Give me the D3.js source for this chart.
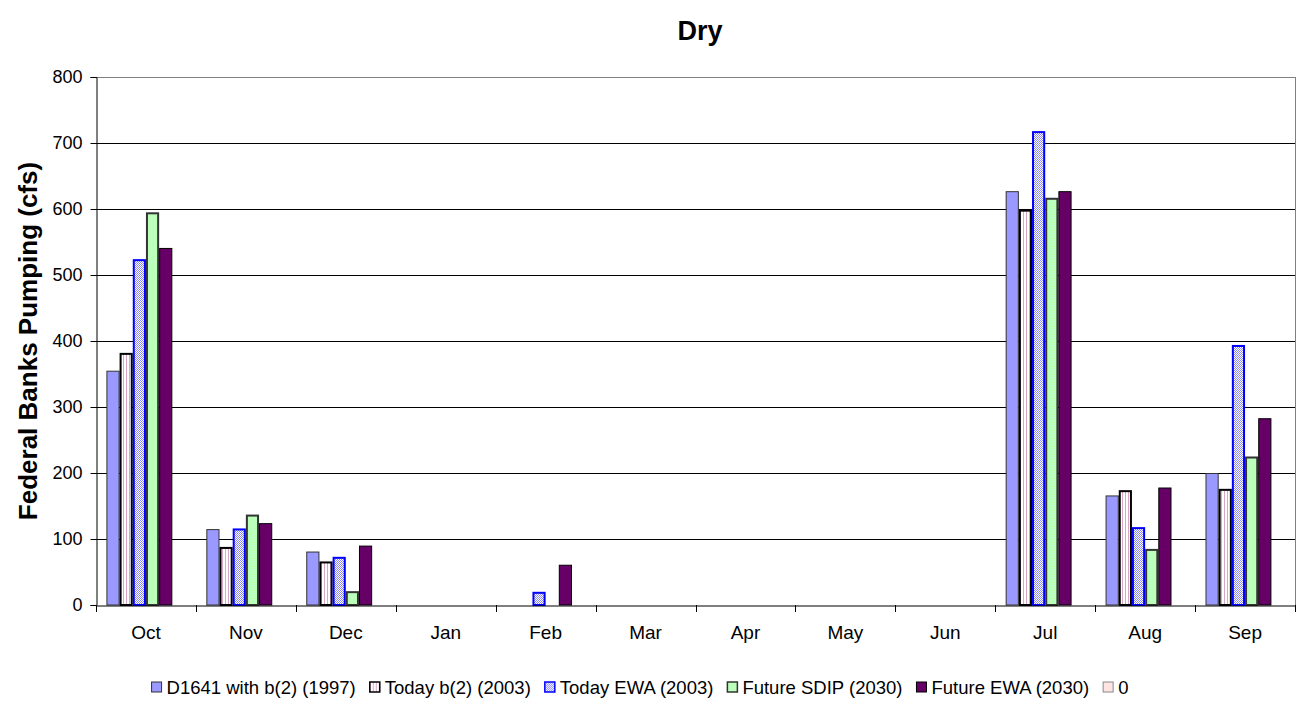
<!DOCTYPE html>
<html>
<head>
<meta charset="utf-8">
<script src="https://cdn.jsdelivr.net/npm/d3@7"></script>
<style>
  body { margin: 0; background: #fff; }
  text { font-family: Arial, "Liberation Sans", sans-serif; }
</style>
</head>
<body>
<svg id="chart" width="1302" height="707"></svg>
<script>
const months = ["Oct", "Nov", "Dec", "Jan", "Feb", "Mar", "Apr", "May", "Jun", "Jul", "Aug", "Sep"]
const seriesNames = ["D1641 with b(2) (1997)", "Today b(2) (2003)", "Today EWA (2003)",
    "Future SDIP (2030)", "Future EWA (2030)", "0"]
const d1641 = [355, 115, 81, 0, 0, 0, 0, 0, 0, 627, 166, 200]
const todayB2 = [382, 88, 66, 0, 0, 0, 0, 0, 0, 599, 174, 176]
const todayEwa = [524, 116, 73, 0, 20, 0, 0, 0, 0, 718, 118, 394]
const futureSdip = [595, 137, 21, 0, 0, 0, 0, 0, 0, 617, 85, 225]
const futureEwa = [541, 124, 90, 0, 61, 0, 0, 0, 0, 627, 178, 283]
const zeroSeries = [0, 0, 0, 0, 0, 0, 0, 0, 0, 0, 0, 0]
const yTicks = [0, 100, 200, 300, 400, 500, 600, 700, 800]

const allSeries = [d1641, todayB2, todayEwa, futureSdip, futureEwa, zeroSeries]

const styles = [
    {fill: "#9999FF", stroke: "#333", sw: 1},
    {fill: "url(#stripes)", stroke: "#000", sw: 2},
    {fill: "url(#checker)", stroke: "#0000FF", sw: 2},
    {fill: "#BBFFBB", stroke: "#333", sw: 2},
    {fill: "#660066", stroke: "#000", sw: 1},
    {fill: "#FFE4E4", stroke: "#888", sw: 1}
]

const margin = {top: 77, left: 96, right: 7, bottom: 102}
const W = 1302, H = 707
const svg = d3.select("#chart")

// patterns
const defs = svg.append("defs")
const stripes = defs.append("pattern").attr("id", "stripes")
    .attr("patternUnits", "userSpaceOnUse").attr("width", 3).attr("height", 3)
stripes.append("rect").attr("width", 3).attr("height", 3).attr("fill", "#fff")
stripes.append("rect").attr("width", 1).attr("height", 3).attr("fill", "#D9A6C6")
const checker = defs.append("pattern").attr("id", "checker")
    .attr("patternUnits", "userSpaceOnUse").attr("width", 2).attr("height", 2)
checker.append("rect").attr("width", 2).attr("height", 2).attr("fill", "#fff")
checker.append("rect").attr("width", 1).attr("height", 1).attr("fill", "#8888EE")
checker.append("rect").attr("x", 1).attr("y", 1).attr("width", 1).attr("height", 1).attr("fill", "#8888EE")

const x = d3.scaleBand().domain(months).range([margin.left, W - margin.right]).padding(0)
const xInner = d3.scaleBand().domain(d3.range(seriesNames.length))
    .range([0, x.bandwidth()]).paddingInner(0).paddingOuter(0.79)
const y = d3.scaleLinear().domain([0, 800]).range([H - margin.bottom, margin.top])

// gridlines
svg.append("g").selectAll("line").data(yTicks.slice(1)).join("line")
    .attr("x1", margin.left).attr("x2", W - margin.right)
    .attr("y1", d => Math.round(y(d)) + 0.5).attr("y2", d => Math.round(y(d)) + 0.5)
    .attr("stroke", d => d === 800 ? "#808080" : "#000").attr("stroke-width", 1)
// right border of plot area
svg.append("line")
    .attr("x1", W - margin.right + 0.5).attr("x2", W - margin.right + 0.5)
    .attr("y1", y(800)).attr("y2", y(0))
    .attr("stroke", "#808080")

// bars
allSeries.forEach((vals, si) => {
    const st = styles[si]
    svg.append("g").selectAll("rect")
        .data(vals.map((v, i) => ({month: months[i], value: v})).filter(d => d.value > 0))
        .join("rect")
        .attr("x", d => x(d.month) + xInner(si) + st.sw / 2)
        .attr("y", d => y(d.value) + st.sw / 2)
        .attr("width", xInner.bandwidth() - st.sw)
        .attr("height", d => y(0) - y(d.value) - st.sw / 2)
        .attr("fill", st.fill)
        .attr("stroke", st.stroke)
        .attr("stroke-width", st.sw)
})

// y axis
const yAxis = svg.append("g")
    .attr("transform", `translate(${margin.left + 0.5},0)`)
    .call(d3.axisLeft(y).tickValues(yTicks).tickSize(6).tickPadding(8))
yAxis.select(".domain").attr("stroke", "#000")
yAxis.selectAll(".tick line").attr("stroke", "#000")
yAxis.selectAll("text").attr("font-size", 18).attr("fill", "#000")
    .style("font-family", "Arial, 'Liberation Sans', sans-serif")

// x axis
const xAxis = svg.append("g")
    .attr("transform", `translate(0,${y(0) + 0.5})`)
    .call(d3.axisBottom(x).tickSize(0).tickPadding(20))
xAxis.select(".domain").attr("stroke", "#000")
xAxis.selectAll("text").attr("font-size", 19).attr("fill", "#000")
    .style("font-family", "Arial, 'Liberation Sans', sans-serif")
// tick marks at category boundaries
svg.append("g").selectAll("line").data(months.concat(["end"])).join("line")
    .attr("x1", (d, i) => Math.round(margin.left + i * x.step()) + 0.5)
    .attr("x2", (d, i) => Math.round(margin.left + i * x.step()) + 0.5)
    .attr("y1", y(0)).attr("y2", y(0) + 7)
    .attr("stroke", "#000")

// title
svg.append("text").attr("x", 700).attr("y", 40)
    .attr("text-anchor", "middle").attr("font-size", 27).attr("font-weight", "bold")
    .text("Dry")

// y label
svg.append("text")
    .attr("transform", `translate(37,${(y(0) + y(800)) / 2}) rotate(-90)`)
    .attr("text-anchor", "middle").attr("font-size", 26).attr("font-weight", "bold")
    .text("Federal Banks Pumping (cfs)")

// legend
const legend = svg.append("g")
const items = legend.selectAll("g").data(seriesNames).join("g")
items.append("rect")
    .attr("width", 10).attr("height", 10)
    .attr("fill", (d, i) => styles[i].fill)
    .attr("stroke", (d, i) => styles[i].stroke)
    .attr("stroke-width", (d, i) => Math.min(styles[i].sw, 1.5))
items.append("text").attr("x", 15).attr("y", 11.5)
    .attr("font-size", 18.5).text(d => d)
let lx = 0
items.each(function () {
    const g = d3.select(this)
    g.attr("transform", `translate(${lx},0)`)
    lx += this.getBBox().width + 14
})
legend.attr("transform", `translate(${640 - (lx - 14) / 2},682)`)
</script>
</body>
</html>
